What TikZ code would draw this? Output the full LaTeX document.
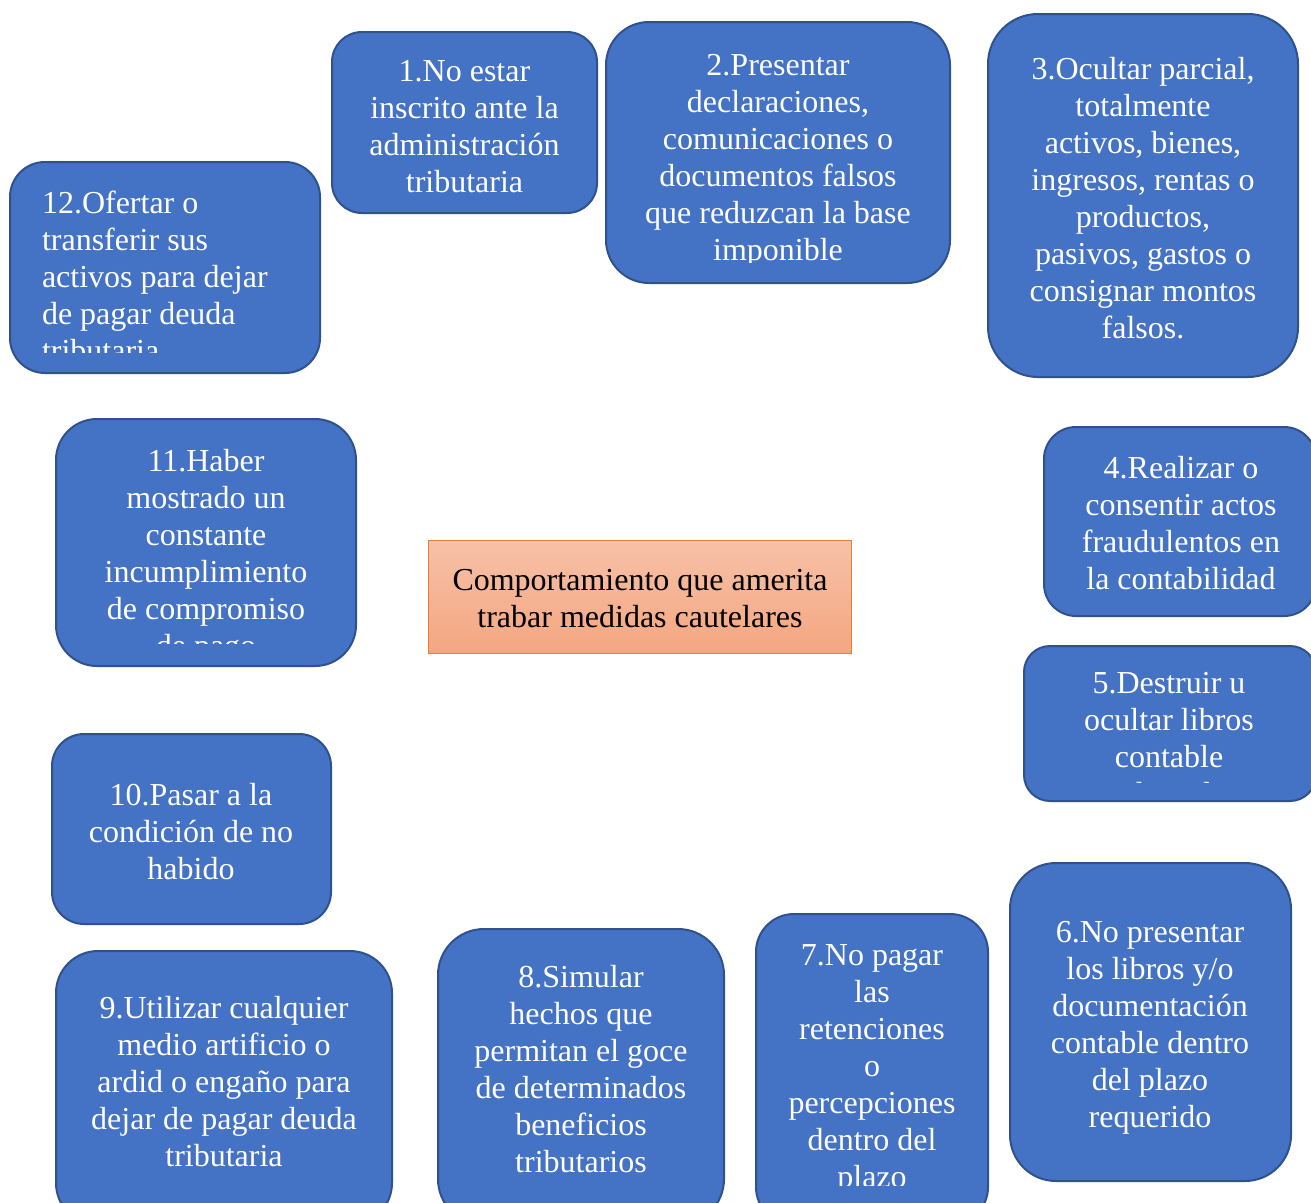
\documentclass[tikz,border=0pt]{standalone}
\usepackage{fontspec}
\setmainfont{Liberation Serif}
\definecolor{boxfill}{HTML}{4472C4}
\definecolor{boxline}{HTML}{2F528F}
\definecolor{ctop}{HTML}{F7C1A8}
\definecolor{cbot}{HTML}{F4A680}
\definecolor{cline}{HTML}{ED7D31}
\tikzset{
  bx/.style={draw=boxline, fill=boxfill, line width=2pt, inner sep=0pt, outer sep=0pt, rectangle},
  tx/.style={text=white, inner sep=0pt, outer sep=0pt, font=\fontsize{32}{37}\selectfont},
}
\newcommand\rbox[6]{\node[bx, rounded corners=#6, minimum width=#4-#2, minimum height=#5-#3] (#1) at ({(#2+#4)/2},{(#3+#5)/2}) {};}
\newcommand\rtext[8]{\begin{scope}\clip (#2,#3) rectangle (#4,#5); \node[tx,#6] (#1) at (#7) {#8};\end{scope}}
\begin{document}
\begin{tikzpicture}[x=1pt,y=-1pt]
\useasboundingbox (0,0) rectangle (1311,1202);
\fill[white] (0,0) rectangle (1311,1202);
% boxes
\rbox{b1}{332}{32}{597}{213}{30}
\rtext{t1}{332}{32}{597}{213}{anchor=north,align=center}{464.5,60}{1.No estar\\inscrito ante la\\administración\\tributaria}
\rbox{b2}{606}{22}{950}{283}{43}
\rtext{t2}{606}{22}{950}{262}{anchor=north,align=center}{778,54}{2.Presentar\\declaraciones,\\comunicaciones o\\documentos falsos\\que reduzcan la base\\imponible}
\rbox{b3}{988}{14}{1298}{377}{50}
\rtext{t3}{988}{14}{1298}{377}{anchor=north,align=center}{1143,57}{3.Ocultar parcial,\\totalmente\\activos, bienes,\\ingresos, rentas o\\productos,\\pasivos, gastos o\\consignar montos\\falsos.}
\rbox{b12}{10}{162}{320}{373}{35}
\rtext{t12}{10}{162}{320}{352}{anchor=north west,align=left}{42,191}{12.Ofertar o\\transferir sus\\activos para dejar\\de pagar deuda\\tributaria}
\rbox{b11}{56}{419}{356}{666}{41}
\rtext{t11}{56}{419}{356}{643}{anchor=north,align=center}{206,449}{11.Haber\\mostrado un\\constante\\incumplimiento\\de compromiso\\de pago}
\node[draw=cline, line width=1pt, top color=ctop, bottom color=cbot, rectangle, minimum width=423, minimum height=113, inner sep=0pt] (c) at (639.5,596.5) {};
\node[inner sep=0pt, anchor=north, align=center, text=black, font=\fontsize{32}{37}\selectfont] (ct) at (640,569) {Comportamiento que amerita\\trabar medidas cautelares};
\rbox{b4}{1044}{427}{1316}{616}{32}
\rtext{t4}{1044}{427}{1316}{616}{anchor=north,align=center}{1181,456}{4.Realizar o\\consentir actos\\fraudulentos en\\la contabilidad}
\rbox{b5}{1024}{646}{1316}{801}{26}
\rtext{t5}{1024}{646}{1316}{782}{anchor=north,align=center}{1169,672}{5.Destruir u\\ocultar libros\\contable\\o alterarlos}
\rbox{b10}{52}{734}{331}{924}{32}
\rtext{t10}{52}{734}{331}{924}{anchor=north,align=center}{191,783}{10.Pasar a la\\condición de no\\habido}
\rbox{b9}{56}{951}{392}{1225}{42}
\rtext{t9}{56}{951}{392}{1202}{anchor=north,align=center}{224,996}{9.Utilizar cualquier\\medio artificio o\\ardid o engaño para\\dejar de pagar deuda\\tributaria}
\rbox{b8}{438}{929}{724}{1225}{46}
\rtext{t8}{438}{929}{724}{1202}{anchor=north,align=center}{581,965}{8.Simular\\hechos que\\permitan el goce\\de determinados\\beneficios\\tributarios}
\rbox{b7}{756}{914}{988}{1225}{38}
\rtext{t7}{756}{914}{988}{1185}{anchor=north,align=center}{872,945}{7.No pagar\\las\\retenciones\\o\\percepciones\\dentro del\\plazo}
\rbox{b6}{1010}{863}{1291}{1181}{46}
\rtext{t6}{1010}{863}{1291}{1181}{anchor=north,align=center}{1150,921}{6.No presentar\\los libros y/o\\documentación\\contable dentro\\del plazo\\requerido}
\end{tikzpicture}
\end{document}
